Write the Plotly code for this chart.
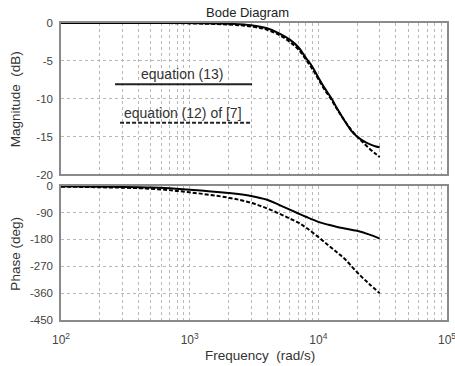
import plotly.graph_objects as go

# ---------------- data ----------------
freq = [100, 200, 500, 1000, 2000, 3000, 4000, 5000, 6000, 7000, 8000, 9000,
        10000, 11000, 12700, 14000, 16000, 18000, 20000, 22000, 25000, 28000, 30000]

mag_eq13 = [0, 0, 0, 0, -0.1, -0.3, -0.7, -1.4, -2.2, -3.2, -4.6, -5.8,
            -7.2, -8.4, -10.0, -11.3, -12.9, -14.2, -15.0, -15.5, -16.0, -16.3, -16.4]
mag_eq12 = [0, 0, 0, -0.05, -0.2, -0.45, -0.9, -1.6, -2.5, -3.5, -4.8, -6.1,
            -7.4, -8.6, -10.2, -11.4, -12.9, -14.1, -15.0, -15.7, -16.6, -17.3, -17.7]

ph_freq = [100, 200, 500, 1000, 2000, 3000, 4000, 5000, 6000, 7000, 8000,
           10000, 12000, 14000, 16000, 20000, 25000, 30000]
ph_eq13 = [-2, -3, -6, -13, -24, -34, -47, -65, -80, -93, -104,
           -121, -131, -138, -143, -151, -164, -177]
ph_eq12 = [-3, -5, -10, -22, -40, -57, -76, -94, -110, -124, -140,
           -172, -200, -224, -245, -290, -330, -360]

mag_ticks = [0, -5, -10, -15, -20]
ph_ticks = [0, -90, -180, -270, -360, -450]
decades = [2, 3, 4, 5]

label_eq13 = "equation (13)"
label_eq12 = "equation (12) of [7]"

# ---------------- figure ----------------
FONT = "Liberation Sans, Arial, sans-serif"
GRID = "#b8b8b8"
FRAME = "#8a8a8a"

major_vals = [10 ** d for d in decades]
major_text = ["10<sup>%d</sup>" % d for d in decades]
minor_vals = [k * 10 ** d for d in decades[:-1] for k in range(2, 10)]

fig = go.Figure()
fig.add_trace(go.Scatter(x=freq, y=mag_eq13, mode="lines", line=dict(color="black", width=2, shape="spline"),
                         xaxis="x", yaxis="y", showlegend=False))
fig.add_trace(go.Scatter(x=freq, y=mag_eq12, mode="lines",
                         line=dict(color="black", width=2, dash="4px,2px", shape="spline"),
                         xaxis="x", yaxis="y", showlegend=False))
fig.add_trace(go.Scatter(x=ph_freq, y=ph_eq13, mode="lines", line=dict(color="black", width=2, shape="spline"),
                         xaxis="x2", yaxis="y2", showlegend=False))
fig.add_trace(go.Scatter(x=ph_freq, y=ph_eq12, mode="lines",
                         line=dict(color="black", width=2, dash="4px,2px", shape="spline"),
                         xaxis="x2", yaxis="y2", showlegend=False))

xcommon = dict(type="log", range=[2, 5], tickmode="array", tickvals=major_vals, ticktext=major_text,
               showgrid=True, gridcolor=GRID, griddash="dot", gridwidth=1,
               minor=dict(tickmode="array", tickvals=minor_vals, showgrid=True, gridcolor=GRID,
                          griddash="dot", gridwidth=1, ticks=""),
               showline=True, mirror=True, linecolor=FRAME, linewidth=1.5,
               ticks="", zeroline=False, automargin=False, ticklabeloverflow="allow")
ycommon = dict(showgrid=True, gridcolor=GRID, griddash="dot", gridwidth=1,
               showline=True, mirror=True, linecolor=FRAME, linewidth=1.5,
               ticks="", zeroline=False, tickfont=dict(family=FONT, size=11.5, color="#444"),
               ticklabelstandoff=4, automargin=False)

fig.update_layout(
    width=455, height=366,
    margin=dict(l=61, r=8, t=23, b=46),
    paper_bgcolor="white", plot_bgcolor="white",
    font=dict(family=FONT, color="#333"),
    xaxis=dict(**xcommon, domain=[0, 1], anchor="y", showticklabels=False),
    yaxis=dict(**ycommon, domain=[0.49, 1], range=[-20, 0], tickvals=mag_ticks,
               ticktext=[str(v) for v in mag_ticks]),
    xaxis2=dict(**xcommon, domain=[0, 1], anchor="y2",
                tickfont=dict(family=FONT, size=12, color="#444"), ticklabelstandoff=8),
    yaxis2=dict(**ycommon, domain=[0, 0.452], range=[-450, 0], tickvals=ph_ticks,
                ticktext=[str(v) for v in ph_ticks]),
)

# legend-like drawn labels inside magnitude plot
fig.add_shape(type="line", xref="paper", yref="paper", x0=0.14, x1=0.495, y0=0.794, y1=0.794,
              line=dict(color="#222", width=2))
fig.add_shape(type="line", xref="paper", yref="paper", x0=0.153, x1=0.495, y0=0.664, y1=0.664,
              line=dict(color="#222", width=2, dash="4px,2px"))

def ann(text, x, y, size=13, angle=0, color="#333"):
    fig.add_annotation(text=text, xref="paper", yref="paper", x=x, y=y, showarrow=False,
                       xanchor="center", yanchor="middle", textangle=angle,
                       font=dict(family=FONT, size=size, color=color))

ann(label_eq13, 0.316, 0.828, size=14)
ann(label_eq12, 0.315, 0.697, size=14)
ann("Bode Diagram", 0.484, 1.036, color="#222")
ann("Magnitude\u00a0\u00a0(dB)", -0.118, 0.745, angle=-90, size=13.5)
ann("Phase (deg)", -0.118, 0.225, angle=-90, size=13.5)
ann("Frequency\u00a0\u00a0(rad/s)", 0.516, -0.118, size=13.5)

fig.write_html("out.html")
